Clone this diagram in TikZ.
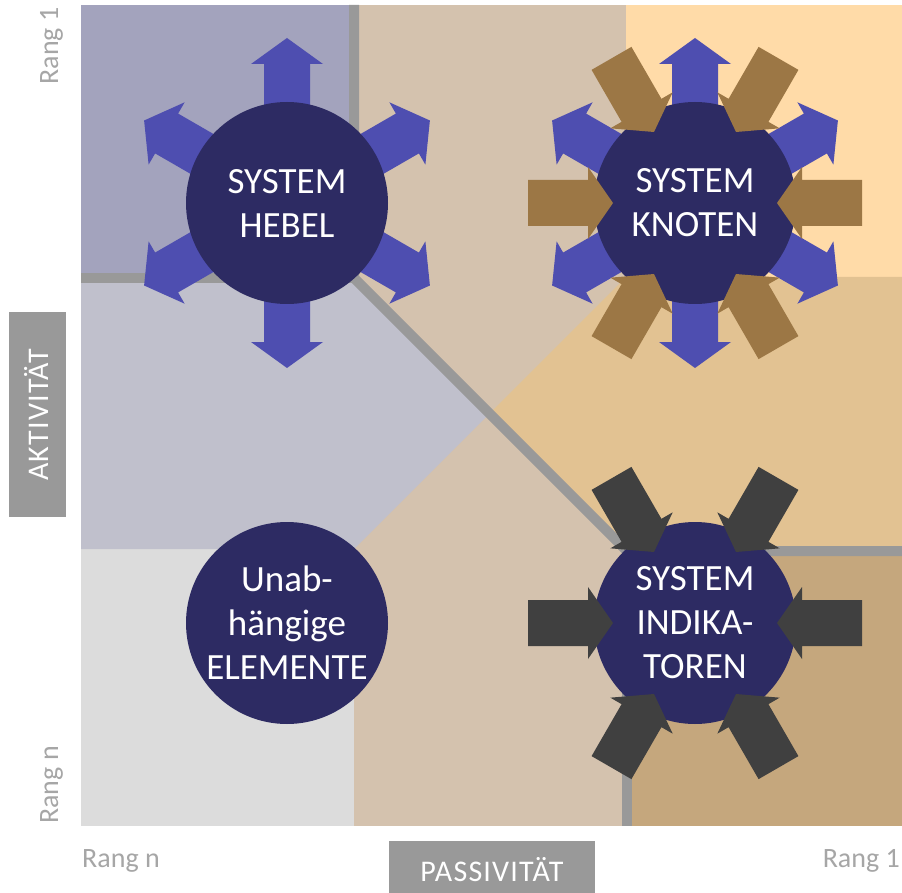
\documentclass[tikz,border=0pt]{standalone}
\usepackage{fontspec}
\setmainfont{Carlito}
\newfontfamily\boxfont[LetterSpace=4]{Carlito}
\definecolor{tlgray}{HTML}{A3A3BD}
\definecolor{lband}{HTML}{C0C0CC}
\definecolor{tan}{HTML}{D4C2AE}
\definecolor{peach}{HTML}{FFDBA8}
\definecolor{midr}{HTML}{E2C292}
\definecolor{botr}{HTML}{C5A77D}
\definecolor{botl}{HTML}{DCDCDC}
\definecolor{navy}{HTML}{2D2B63}
\definecolor{bluearr}{HTML}{4E4EB0}
\definecolor{brownarr}{HTML}{9C7745}
\definecolor{darkarr}{HTML}{404040}
\definecolor{linegray}{HTML}{999999}
\definecolor{labgray}{HTML}{A6A6A6}
\newcommand\ArrOut[3]{\fill[#3, shift={(#1)}, rotate=#2] (0,-23) -- (139,-23) -- (139,-36) -- (165,0) -- (139,36) -- (139,23) -- (0,23) -- cycle;}
\newcommand\ArrIn[3]{\fill[#3, shift={(#1)}, rotate=#2] (167,-23) -- (107,-23) -- (107,-36) -- (82,0) -- (107,36) -- (107,23) -- (167,23) -- cycle;}
\begin{document}
\begin{tikzpicture}[x=1pt,y=-1pt,
  gline/.style={draw=linegray, line width=10pt},
  circ/.style={circle, fill=navy, text=white, minimum size=202pt, inner sep=0pt, align=center, font=\fontsize{37}{44}\selectfont},
  lab/.style={text=labgray, inner sep=0pt, font=\fontsize{28}{34}\selectfont},
  axbox/.style={fill=linegray},
  boxlab/.style={text=white, inner sep=0pt, font=\boxfont\fontsize{30}{36}\selectfont}]
\useasboundingbox (0,0) rectangle (902,893);
\fill[white] (0,0) rectangle (902,893);
% background regions
\fill[tan] (81,5) rectangle (902,826);
\fill[tlgray] (81,5) rectangle (354,278);
\fill[peach] (626,5) rectangle (902,277);
\fill[botr] (627,551) rectangle (902,826);
\fill[botl] (81,549) rectangle (354,826);
\fill[lband] (81,278) -- (354,278) -- (490,413) -- (354,549) -- (81,549) -- cycle;
\fill[midr] (626,277) -- (902,277) -- (902,551) -- (627,551) -- (490,413) -- cycle;
% gray lines
\draw[gline] (354,5) -- (354,278) -- (627,551) -- (902,551);
\draw[gline] (81,278) -- (354,278);
\draw[gline] (627,551) -- (627,826);
% centres
\coordinate (cH) at (287,203);
\coordinate (cK) at (695,203);
\coordinate (cU) at (287,623);
\coordinate (cI) at (695,623);
% outward arrows
\foreach \a in {30,90,150,210,270,330} {\ArrOut{cH}{\a}{bluearr}}
\foreach \a in {30,90,150,210,270,330} {\ArrOut{cK}{\a}{bluearr}}
% circles
\node[circ] (heb) at (cH) {SYSTEM\\HEBEL};
\node[circ] (kno) at (cK) {SYSTEM\\KNOTEN};
\node[circ] (una) at (cU) {Unab-\\hängige\\ELEMENTE};
\node[circ] (ind) at (cI) {SYSTEM\\INDIKA-\\TOREN};
% inward arrows
\foreach \a in {0,60,120,180,240,300} {\ArrIn{kno.center}{\a}{brownarr}}
\foreach \a in {0,60,120,180,240,300} {\ArrIn{ind.center}{\a}{darkarr}}
% axis labels
\fill[axbox] (9,312) rectangle (66,517);
\node[boxlab, rotate=90, anchor=base] (akt) at (48,415) {AKTIVITÄT};
\fill[axbox] (389,841) rectangle (595,893);
\node[boxlab, anchor=base] (pas) at (492,881) {PASSIVITÄT};
\node[lab, rotate=90, anchor=base] (r1l) at (58,46) {Rang 1};
\node[lab, rotate=90, anchor=base] (rnl) at (58,785) {Rang n};
\node[lab, anchor=base west] (rnb) at (82,867) {Rang n};
\node[lab, anchor=base east] (r1b) at (900,867) {Rang 1};
\end{tikzpicture}
\end{document}
